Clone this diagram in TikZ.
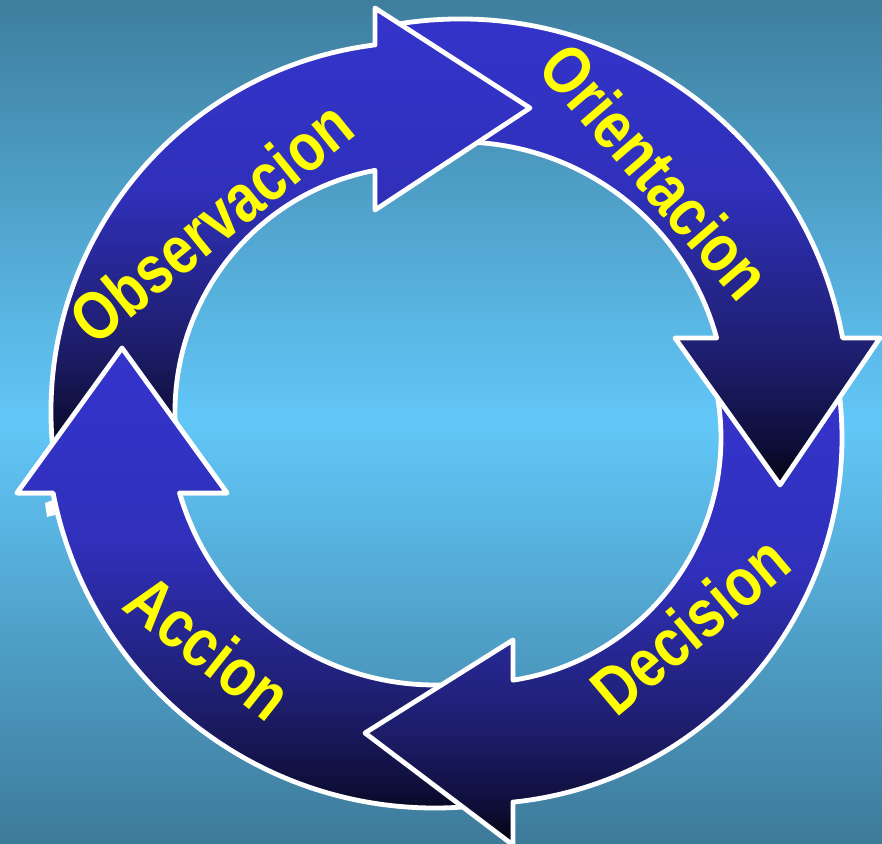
\documentclass[tikz,border=0pt]{standalone}
\usepackage{fontspec}
\setmainfont{Liberation Sans}
\usetikzlibrary{calc}
\definecolor{bgtop}{RGB}{62,126,158}
\definecolor{bgmid}{RGB}{98,199,248}
\definecolor{bgbot}{RGB}{61,122,154}
\definecolor{sA}{RGB}{52,52,204}
\definecolor{sB}{RGB}{48,48,188}
\definecolor{sC}{RGB}{30,30,110}
\definecolor{sD}{RGB}{14,14,56}
\definecolor{sE}{RGB}{3,3,14}
\definecolor{txtyellow}{RGB}{255,255,0}
\pgfdeclareverticalshading{arrowshade}{100bp}{color(0bp)=(sE); color(25bp)=(sE); color(29bp)=(sD); color(38bp)=(sC); color(55bp)=(sB); color(75bp)=(sA); color(100bp)=(sA)}
\pgfdeclareverticalshading{bgshade}{100bp}{color(0bp)=(bgbot); color(25bp)=(bgbot); color(50bp)=(bgmid); color(75bp)=(bgtop); color(100bp)=(bgtop)}
\tikzset{
  cyclearrow/.style={draw=white, line width=4.8pt, line join=round, shading=arrowshade},
  lbl/.style={text=txtyellow, font=\bfseries\fontsize{56}{56}\selectfont, inner sep=0pt}
}
\begin{document}
\begin{tikzpicture}[x=1pt,y=1pt]
\useasboundingbox (0,0) rectangle (882,843);
\path[shading=bgshade] (0,0) rectangle (882,843);
\coordinate (cObs) at (421,431);
\coordinate (cOri) at (460,435);
\coordinate (cDec) at (476,405);
\coordinate (cAcc) at (435,424);
% small white marks left by the hidden tails
\fill[white] (45,340) -- (53,343) -- (55,328) -- (47,326) -- cycle;
\fill[white, rounded corners=1pt] (516,41) rectangle (528,48);
% Accion
\def\accpath{($(cAcc)+(-83.64:389)$) arc[start angle=-83.64, end angle=-169.03, radius=389] -- (17,350) -- (122,495) -- (227,350) -- ($(cAcc)+(-163.85:266)$) arc[start angle=-163.85, end angle=-86.77, radius=266] -- cycle}
\path[cyclearrow] \accpath;
% Decision
\path[cyclearrow] ($(cDec)+(8.33:366)$) arc[start angle=8.33, end angle=-84.2, radius=366] -- (513,-2) -- (365,110) -- (513,203) -- ($(cDec)+(-81.31:245)$) arc[start angle=-81.31, end angle=12.49, radius=245] -- cycle;
% Orientacion
\path[cyclearrow] ($(cOri)+(99.5:389)$) arc[start angle=99.5, end angle=10.37, radius=389] -- (880,505) -- (780,358) -- (675,505) -- ($(cOri)+(15.26:266)$) arc[start angle=15.26, end angle=99.5, radius=266] -- cycle;
% Observacion
\path[cyclearrow] ($(cObs)+(187:370)$) arc[start angle=187, end angle=97.14, radius=370] -- (375,835) -- (530,735) -- (375,633) -- ($(cObs)+(100.78:246)$) arc[start angle=100.78, end angle=185, radius=246] -- cycle;
% Accion head again on top of the Observacion tail
\begin{scope}
\clip (0,313) rectangle (250,543);
\path[cyclearrow] \accpath;
\end{scope}
\node[lbl, rotate=39, yscale=1.22] (tObs) at (211,621) {Observacion};
\node[lbl, rotate=-49.2, yscale=1.22] (tOri) at (656,672) {Orientacion};
\node[lbl, rotate=40, yscale=1.22] (tDec) at (690,218) {Decision};
\node[lbl, rotate=-38.3, yscale=1.22] (tAcc) at (209,196) {Accion};
\end{tikzpicture}
\end{document}
